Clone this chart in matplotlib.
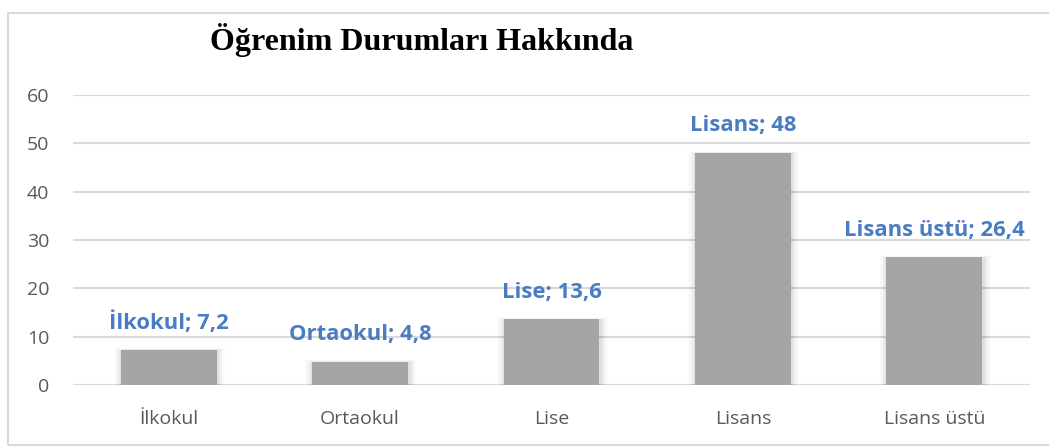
import numpy as np
import matplotlib.pyplot as plt
from matplotlib.patches import Rectangle

categories = ['İlkokul', 'Ortaokul', 'Lise', 'Lisans', 'Lisans üstü']
values = [7.2, 4.8, 13.6, 48, 26.4]
value_labels = ['7,2', '4,8', '13,6', '48', '26,4']
yticks = [0, 10, 20, 30, 40, 50, 60]

fig = plt.figure(figsize=(10.49, 4.48), dpi=100)

# outer chart frame
fig.patches.append(Rectangle((8 / 1049, 1 - 445 / 448), 1.0, (445 - 13) / 448,
                             transform=fig.transFigure, fill=False,
                             edgecolor='#d9d9d9', lw=1.5))

ax = fig.add_axes([73 / 1049, 1 - 385 / 448, (1030 - 73) / 1049, 290 / 448])

x = np.arange(len(categories))

# soft shadow behind bars
for i, a in enumerate([0.05, 0.035, 0.025, 0.015]):
    ax.bar(x + 0.004, np.array(values) + 0.15 * i, width=0.5 + 0.02 * (i + 1),
           color='black', alpha=a, zorder=2, linewidth=0)
ax.bar(x, values, width=0.5, color='#a5a5a5', zorder=3)

for xi, c, v, vl in zip(x, categories, values, value_labels):
    ax.annotate(f'{c}; {vl}', (xi, v), xytext=(0, 19.5), textcoords='offset points',
                ha='center', va='center', color='#4a7cc2', fontsize=15.8,
                fontweight='bold', family='Open Sans')

ax.set_xlim(-0.5, len(categories) - 0.5)
ax.set_ylim(0, 60)
ax.set_yticks(yticks)
ax.set_xticks(x)
ax.set_xticklabels(categories)
ax.grid(axis='y', color='#d9d9d9', lw=1.5, zorder=0)
ax.set_axisbelow(True)
for s in ax.spines.values():
    s.set_visible(False)
ax.tick_params(length=0, labelsize=14, labelcolor='#595959')
ax.tick_params(axis='x', pad=18)
ax.tick_params(axis='y', pad=17)
for t in ax.get_xticklabels() + ax.get_yticklabels():
    t.set_family('Open Sans')

fig.text(422 / 1049, 1 - 40 / 448, 'Öğrenim Durumları Hakkında', ha='center', va='center',
         fontsize=23, fontweight='bold', family='Liberation Serif', color='black')

fig.savefig('out.png', dpi=100)
